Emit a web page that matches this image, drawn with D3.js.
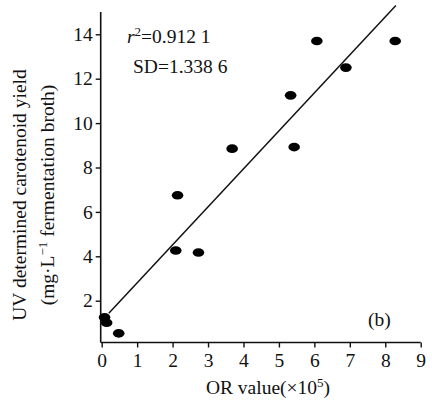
<!DOCTYPE html>
<html>
<head>
<meta charset="utf-8">
<script src="https://cdn.jsdelivr.net/npm/d3@7"></script>
<style>
  body { margin: 0; background: #fff; }
  text { font-family: "Liberation Serif", "Times New Roman", serif; fill: #111; }
</style>
</head>
<body>
<div id="chart"></div>
<script>
// OR value (x10^5) vs UV determined yield
const orValues = [0.08, 0.14, 0.48, 2.09, 2.14, 2.73, 3.68, 5.33, 5.43, 6.07, 6.89, 8.28];
const uvValues = [1.25, 1.01, 0.53, 4.26, 6.75, 4.17, 8.85, 11.25, 8.92, 13.7, 12.5, 13.7];
const fitLine = [[0.2, 1.43], [8.3, 15.3]];
const xTicks = [0, 1, 2, 3, 4, 5, 6, 7, 8, 9];
const yTicks = [2, 4, 6, 8, 10, 12, 14];

const W = 432, H = 403;
const fs = "19.5px";
const svg = d3.select("#chart").append("svg")
    .attr("width", W)
    .attr("height", H);

const xScale = d3.scaleLinear().domain([0, 9]).range([101.7, 420.7]);
const yScale = d3.scaleLinear().domain([2, 14]).range([300.7, 34.3]);
const yBottom = 342.5, yTop = 12;

// axes
const xAxis = svg.append("g")
    .attr("transform", `translate(0, ${yBottom})`)
    .call(d3.axisBottom(xScale).tickValues(xTicks).tickSize(5).tickSizeOuter(0));
xAxis.select(".domain").attr("d", `M${xScale(0) - 1},0H${xScale(9)}`);

const yAxis = svg.append("g")
    .attr("transform", `translate(${xScale(0) - 1}, 0)`)
    .call(d3.axisLeft(yScale).tickValues(yTicks).tickSize(5).tickSizeOuter(0));
yAxis.select(".domain").attr("d", `M0,${yTop}V${yBottom}`);

svg.selectAll(".domain").attr("stroke", "#111").attr("stroke-width", 1.6);
svg.selectAll(".tick line").attr("stroke", "#111").attr("stroke-width", 1.4);
svg.selectAll(".tick text")
    .style("font-family", "Liberation Serif, serif")
    .style("font-size", fs)
    .attr("fill", "#111");
xAxis.selectAll(".tick text").attr("dy", null).attr("y", 24);
yAxis.selectAll(".tick text").attr("x", -8);

// fit line
svg.append("line")
    .attr("x1", xScale(fitLine[0][0]))
    .attr("y1", yScale(fitLine[0][1]))
    .attr("x2", xScale(fitLine[1][0]))
    .attr("y2", yScale(fitLine[1][1]))
    .attr("stroke", "#111")
    .attr("stroke-width", 1.5);

// points
svg.selectAll("ellipse")
    .data(orValues.map((d, i) => ({ x: d, y: uvValues[i] })))
    .enter()
    .append("ellipse")
    .attr("cx", d => xScale(d.x))
    .attr("cy", d => yScale(d.y))
    .attr("rx", 5.8)
    .attr("ry", 4.3)
    .attr("fill", "#000");

// annotations
const r2 = svg.append("text")
    .attr("x", 127)
    .attr("y", 43)
    .style("font-size", fs);
r2.append("tspan").attr("font-style", "italic").text("r");
r2.append("tspan").attr("dy", -7).style("font-size", "13px").text("2");
r2.append("tspan").attr("dy", 7).text("=0.912 1");

svg.append("text")
    .attr("x", 133)
    .attr("y", 73)
    .style("font-size", fs)
    .text("SD=1.338 6");

svg.append("text")
    .attr("x", 368)
    .attr("y", 326)
    .style("font-size", fs)
    .text("(b)");

// axis titles
const xt = svg.append("text")
    .attr("x", 268)
    .attr("y", 394)
    .attr("text-anchor", "middle")
    .style("font-size", fs);
xt.append("tspan").text("OR value(×10");
xt.append("tspan").attr("dy", -7).style("font-size", "13px").text("5");
xt.append("tspan").attr("dy", 7).text(")");

const yt = svg.append("text")
    .attr("transform", "translate(26, 195) rotate(-90)")
    .attr("text-anchor", "middle")
    .style("font-size", fs);
yt.append("tspan").attr("x", 0).attr("y", 0).text("UV determined carotenoid yield");
const yt2 = yt.append("tspan").attr("x", 0).attr("y", 28);
yt2.append("tspan").text("(mg·L");
yt2.append("tspan").attr("dy", -7).style("font-size", "13px").text("−1");
yt2.append("tspan").attr("dy", 7).text(" fermentation broth)");
</script>
</body>
</html>
